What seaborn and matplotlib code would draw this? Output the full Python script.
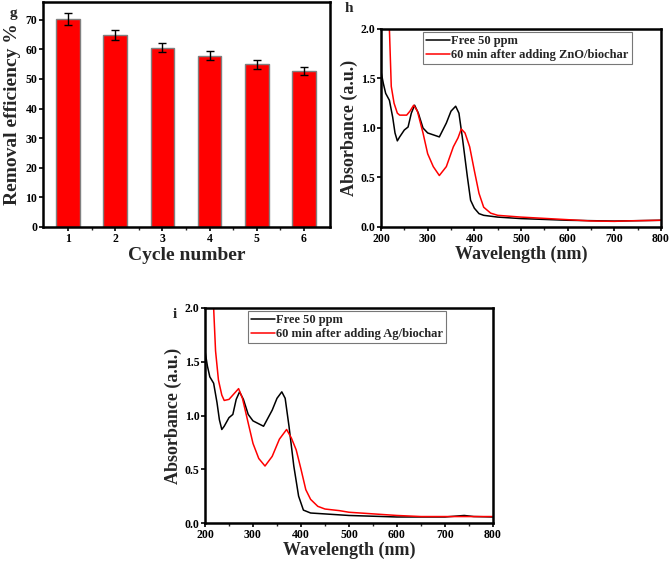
import numpy as np
import pandas as pd
import matplotlib
matplotlib.use("Agg")
import matplotlib.pyplot as plt
import seaborn as sns
from matplotlib.ticker import MultipleLocator

# ---------------- data ----------------
cycles = ["1", "2", "3", "4", "5", "6"]
efficiency = [70.2, 64.9, 60.6, 57.8, 55.0, 52.8]
eff_err = [2.0, 1.7, 1.5, 1.5, 1.5, 1.3]

h_free_wl = [200, 205, 210, 218, 225, 230, 235, 240, 250, 258, 265, 272, 280, 290, 300, 325,
             340, 350, 360, 367, 375, 385, 392, 400, 410, 420, 450, 500, 600, 700, 800]
h_free_abs = [1.57, 1.45, 1.35, 1.28, 1.11, 0.95, 0.87, 0.91, 0.98, 1.01, 1.15, 1.23, 1.15, 1.0, 0.95, 0.91,
              1.05, 1.17, 1.22, 1.15, 0.88, 0.51, 0.27, 0.19, 0.135, 0.118, 0.10, 0.085, 0.068, 0.06, 0.068]
h_zno_wl = [212, 218, 222, 228, 235, 240, 255, 262, 270, 278, 290, 300, 312, 325, 340, 355, 365, 372,
            380, 390, 400, 410, 420, 435, 450, 500, 600, 650, 700, 730, 800]
h_zno_abs = [2.3, 2.0, 1.42, 1.25, 1.15, 1.13, 1.13, 1.17, 1.23, 1.17, 0.95, 0.74, 0.61, 0.52, 0.61, 0.81, 0.9, 0.99,
             0.95, 0.81, 0.57, 0.34, 0.2, 0.14, 0.118, 0.10, 0.074, 0.061, 0.057, 0.062, 0.068]

i_free_wl = [200, 205, 210, 218, 225, 230, 235, 240, 250, 258, 265, 272, 280, 290, 300, 322,
             340, 350, 360, 367, 375, 385, 395, 405, 420, 500, 600, 700, 740, 760, 800]
i_free_abs = [1.6, 1.46, 1.36, 1.30, 1.12, 0.96, 0.87, 0.9, 0.98, 1.01, 1.15, 1.22, 1.15, 1.01, 0.95, 0.9,
              1.05, 1.16, 1.22, 1.16, 0.9, 0.53, 0.25, 0.12, 0.093, 0.07, 0.056, 0.056, 0.07, 0.06, 0.056]
i_ag_wl = [212, 218, 222, 228, 235, 240, 250, 262, 270, 278, 290, 300, 312, 325, 340, 355, 370, 380,
           390, 400, 410, 420, 435, 450, 480, 500, 550, 600, 650, 700, 800]
i_ag_abs = [2.4, 2.0, 1.6, 1.33, 1.19, 1.14, 1.15, 1.21, 1.25, 1.16, 0.93, 0.74, 0.6, 0.53, 0.62, 0.78, 0.87, 0.79,
            0.68, 0.5, 0.31, 0.22, 0.155, 0.13, 0.115, 0.1, 0.085, 0.07, 0.06, 0.06, 0.06]

free_label = "Free 50 ppm"
zno_label = "60 min after adding ZnO/biochar"
ag_label = "60 min after adding Ag/biochar"

# ---------------- style ----------------
sns.set_theme(style="ticks")
plt.rcParams["font.family"] = ["Liberation Serif", "DejaVu Serif"]
plt.rcParams["font.weight"] = "bold"
plt.rcParams["axes.labelweight"] = "bold"

fig = plt.figure(figsize=(6.69, 5.63), dpi=100)
W, H = 669, 563


def add_ax(l, r, t, b):
    return fig.add_axes([l / W, 1 - b / H, (r - l) / W, (b - t) / H])


def style_ax(ax):
    for s in ax.spines.values():
        s.set_linewidth(1.8)
        s.set_color("black")
    ax.tick_params(which="major", direction="out", length=3, width=1.2, labelsize=8.5, pad=1, colors="black")
    ax.tick_params(which="minor", direction="out", length=2, width=1.0)
    for lab in ax.get_xticklabels() + ax.get_yticklabels():
        lab.set_fontweight("bold")


# ---------------- panel g ----------------
axg = add_ax(43, 330, 2, 227)
df_g = pd.DataFrame({"cycle": cycles, "eff": efficiency})
sns.barplot(data=df_g, x="cycle", y="eff", color="#ff0000", saturation=1, width=0.5,
            edgecolor="#808080", linewidth=1.0, errorbar=None, ax=axg)
pos = np.arange(len(cycles))
axg.errorbar(pos, efficiency, yerr=eff_err, fmt="none", ecolor="black", elinewidth=1.0, capsize=3, capthick=1.0)
axg.set_xlim(-0.53, 5.55)
axg.set_ylim(0, 76)
axg.yaxis.set_major_locator(MultipleLocator(10))
axg.set_xticks(pos)
axg.set_xticks(pos[:-1] + 0.5, minor=True)
axg.set_xlabel("Cycle number", fontsize=14, fontweight="bold", labelpad=2)
axg.set_ylabel("Removal efficiency %", fontsize=14, fontweight="bold", labelpad=3)
style_ax(axg)
fig.text(13 / W, 1 - 14 / H, "g", fontsize=11, fontweight="bold", ha="center", va="center")


def spectrum(ax, wl1, a1, wl2, a2, lab1, lab2):
    df = pd.concat([
        pd.DataFrame({"wl": wl1, "A": a1, "s": lab1}),
        pd.DataFrame({"wl": wl2, "A": a2, "s": lab2}),
    ])
    sns.lineplot(data=df, x="wl", y="A", hue="s", palette={lab1: "black", lab2: "#ff0000"},
                 estimator=None, sort=False, linewidth=1.1, ax=ax)
    ax.set_xlim(200, 800)
    ax.set_ylim(0, 2.0)
    ax.xaxis.set_major_locator(MultipleLocator(100))
    ax.xaxis.set_minor_locator(MultipleLocator(50))
    ax.yaxis.set_major_locator(MultipleLocator(0.5))
    ax.yaxis.set_major_formatter(matplotlib.ticker.FormatStrFormatter("%.1f"))
    ax.set_xlabel("Wavelength (nm)", fontsize=13, fontweight="bold", labelpad=1)
    ax.set_ylabel("Absorbance (a.u.)", fontsize=13, fontweight="bold", labelpad=2)
    style_ax(ax)
    leg = ax.legend(loc="upper left", bbox_to_anchor=(0.15, 0.985), frameon=True, fancybox=False,
                    prop={"weight": "bold", "size": 9}, handlelength=1.9, handletextpad=0.1,
                    borderpad=0.25, labelspacing=0.15, borderaxespad=0)
    leg.get_frame().set_edgecolor("#555555")
    leg.get_frame().set_linewidth(0.8)
    return leg


# ---------------- panel h ----------------
axh = add_ax(381, 661, 29, 227)
spectrum(axh, h_free_wl, h_free_abs, h_zno_wl, h_zno_abs, free_label, zno_label)
fig.text(349 / W, 1 - 9 / H, "h", fontsize=11, fontweight="bold", ha="center", va="center")

# ---------------- panel i ----------------
axi = add_ax(205, 493, 308, 523)
spectrum(axi, i_free_wl, i_free_abs, i_ag_wl, i_ag_abs, free_label, ag_label)
fig.text(175 / W, 1 - 314 / H, "i", fontsize=11, fontweight="bold", ha="center", va="center")

fig.savefig("out.png", dpi=100)
